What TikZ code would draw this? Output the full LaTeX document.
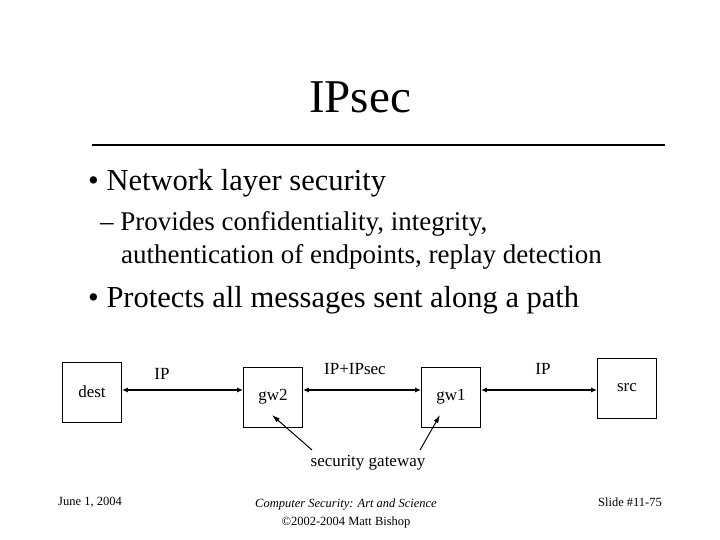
\documentclass[tikz,border=0pt]{standalone}
\usepackage{fontspec}
\setmainfont{Liberation Serif}
\usetikzlibrary{arrows.meta}
\begin{document}
\begin{tikzpicture}[x=1pt,y=-1pt,
  box/.style={draw,line width=0.8pt,minimum width=59pt,minimum height=60pt,inner sep=0pt,font=\fontsize{17}{19}\selectfont},
  lbl/.style={font=\fontsize{17}{19}\selectfont,inner sep=0pt},
  link/.style={line width=1.6pt,{Latex[length=6pt,width=5pt]}-{Latex[length=6pt,width=5pt]}},
  pointer/.style={line width=1pt,-{Latex[length=8pt,width=5pt]}}]
\useasboundingbox (0,0) rectangle (720,540);
\node (title) at (360,97) {\fontsize{47}{50}\selectfont IPsec};
\draw[line width=2.5pt] (92,145) -- (665,145);
\node[anchor=west,inner sep=0pt] (b1) at (88,183) {\fontsize{30.5}{34}\selectfont • Network layer security};
\node[anchor=west,inner sep=0pt] (s1) at (100,224) {\fontsize{27}{30}\selectfont – Provides confidentiality, integrity,};
\node[anchor=west,inner sep=0pt] (s2) at (121,257) {\fontsize{27}{30}\selectfont authentication of endpoints, replay detection};
\node[anchor=west,inner sep=0pt] (b2) at (88,300) {\fontsize{30.5}{34}\selectfont • Protects all messages sent along a path};
\node[box] (dest) at (92,392) {dest};
\node[box] (gw2) at (273,397) {gw2};
\node[box] (gw1) at (451,397) {gw1};
\node[box] (src) at (627,388) {src};
\draw[link] (dest.east |- 0,390) -- (gw2.west |- 0,390);
\draw[link] (gw2.east |- 0,390) -- (gw1.west |- 0,390);
\draw[link] (gw1.east |- 0,390) -- (src.west |- 0,390);
\node[lbl] (l1) at (162,374) {IP};
\node[lbl] (l2) at (355,369) {IP+IPsec};
\node[lbl] (l3) at (543,369) {IP};
\node[lbl] (sg) at (368,463) {security gateway};
\coordinate (p1) at (312,450);
\coordinate (p2) at (420,450);
\draw[pointer] (p1) -- (272,415);
\draw[pointer] (p2) -- (440,415);
\node[font=\fontsize{12.5}{14}\selectfont] (d) at (90,502) {June 1, 2004};
\node[font=\fontsize{12.5}{18}\selectfont,align=center] (c) at (346,513) {\itshape Computer Security: Art and Science\\ ©2002-2004 Matt Bishop};
\node[font=\fontsize{12.5}{14}\selectfont] (s) at (630,502) {Slide \#11-75};
\end{tikzpicture}
\end{document}
